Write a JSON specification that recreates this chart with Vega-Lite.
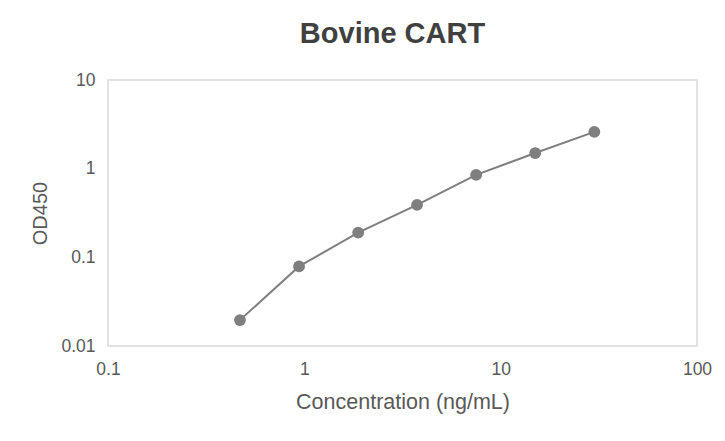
{
  "$schema": "https://vega.github.io/schema/vega-lite/v6.json",
  "autosize": {"type": "none"},
  "padding": {"left": 108, "top": 80, "right": 28, "bottom": 95},
  "width": 589,
  "height": 266,
  "background": "white",
  "title": {
    "text": "Bovine CART",
    "font": "Liberation Sans",
    "fontSize": 29,
    "fontWeight": "bold",
    "color": "#404040",
    "anchor": "middle",
    "dx": -10,
    "offset": 22
  },
  "config": {
    "view": {"stroke": "#d9d9d9", "strokeWidth": 1.5},
    "axis": {
      "domain": false,
      "ticks": false,
      "grid": false,
      "labelFont": "Liberation Sans",
      "labelFontSize": 17.5,
      "labelColor": "#595959",
      "titleFont": "Liberation Sans",
      "titleFontWeight": "normal",
      "titleColor": "#595959"
    }
  },
  "data": {
    "values": [
      {"conc": 0.47, "od": 0.0196},
      {"conc": 0.94, "od": 0.079},
      {"conc": 1.88, "od": 0.19},
      {"conc": 3.75, "od": 0.39},
      {"conc": 7.5, "od": 0.85},
      {"conc": 15, "od": 1.5},
      {"conc": 30, "od": 2.6}
    ]
  },
  "encoding": {
    "x": {
      "field": "conc",
      "type": "quantitative",
      "scale": {"type": "log", "domain": [0.1, 100], "nice": false},
      "axis": {"values": [0.1, 1, 10, 100], "format": "~g", "title": "Concentration (ng/mL)", "labelFlush": false, "labelPadding": 14, "titleFontSize": 21.5, "titlePadding": 14}
    },
    "y": {
      "field": "od",
      "type": "quantitative",
      "scale": {"type": "log", "domain": [0.01, 10], "nice": false},
      "axis": {"values": [0.01, 0.1, 1, 10], "format": "~g", "title": "OD450", "labelPadding": 13, "titleFontSize": 20, "titlePadding": 10}
    }
  },
  "layer": [
    {"mark": {"type": "line", "color": "#7f7f7f", "strokeWidth": 2}},
    {"mark": {"type": "point", "filled": true, "color": "#7f7f7f", "opacity": 1, "size": 140}}
  ]
}
